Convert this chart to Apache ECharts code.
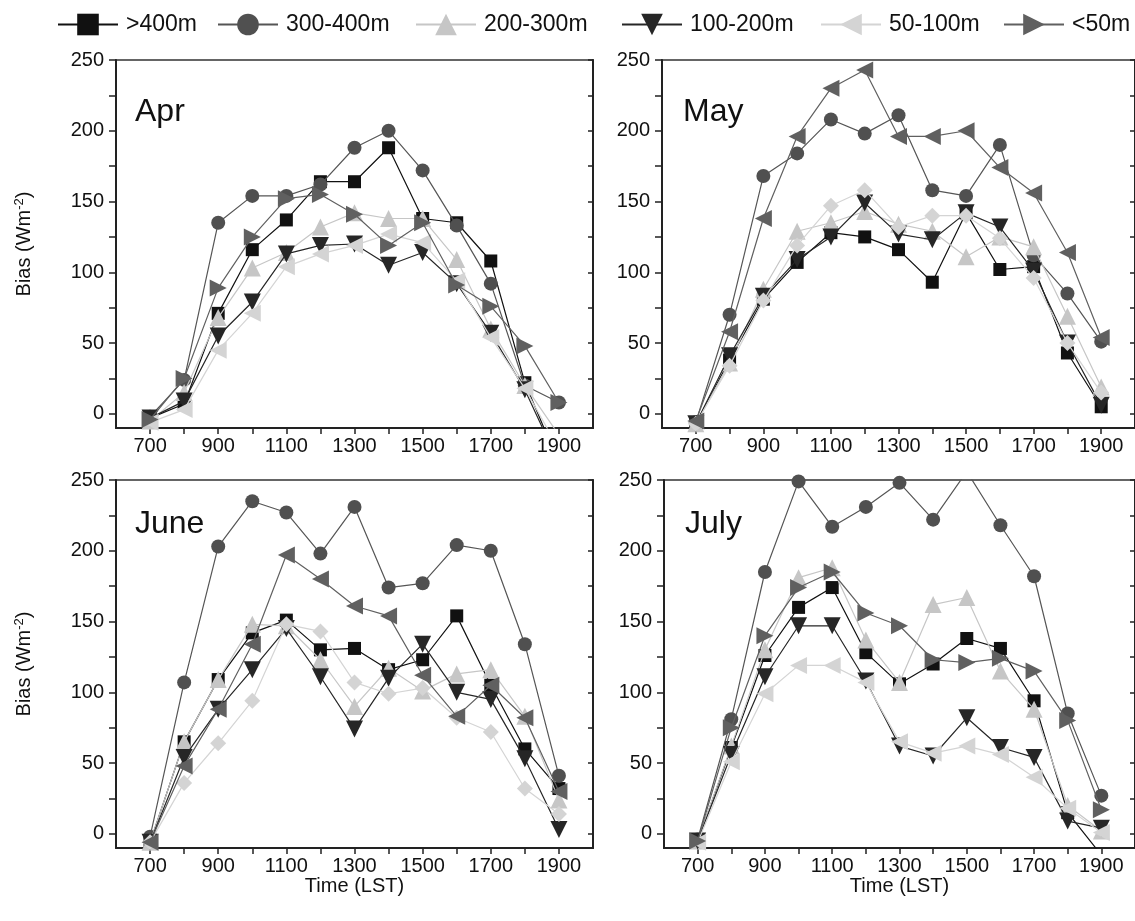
<!DOCTYPE html>
<html>
<head>
<meta charset="utf-8">
<script src="https://cdn.jsdelivr.net/npm/echarts@6/dist/echarts.min.js"></script>
<style>
html,body{margin:0;padding:0;background:#fff;}
#chart{width:1135px;height:921px;}
</style>
</head>
<body>
<div id="chart"></div>
<script>
// ---- data ----
const hours = [700, 800, 900, 1000, 1100, 1200, 1300, 1400, 1500, 1600, 1700, 1800, 1900];
const seriesNames = ['>400m', '300-400m', '200-300m', '100-200m', '50-100m', '<50m'];
const panelTitles = ['Apr', 'May', 'June', 'July'];
const xTickValues = [700, 800, 900, 1000, 1100, 1200, 1300, 1400, 1500, 1600, 1700, 1800, 1900];
const xLabelValues = [700, 900, 1100, 1300, 1500, 1700, 1900];
const yTickValues = [0, 25, 50, 75, 100, 125, 150, 175, 200, 225, 250];
const yLabelValues = [0, 50, 100, 150, 200, 250];

const apr_gt400 = [-3, 7, 71, 116, 137, 164, 164, 188, 138, 135, 108, 22, -35];
const apr_300 = [-2, 24, 135, 154, 154, 162, 188, 200, 172, 133, 92, 20, 8];
const apr_200 = [-5, 15, 68, 103, 114, 132, 142, 138, 138, 109, 60, 20, -15];
const apr_100 = [-3, 9, 55, 79, 113, 119, 120, 105, 114, 92, 57, 17, -35];
const apr_50 = [-6, 3, 45, 71, 104, 113, 119, 127, 121, 94, 54, 18, -25];
const apr_lt50 = [-4, 25, 89, 125, 152, 155, 141, 119, 135, 91, 76, 48, 8];

const may_gt400 = [-7, 38, 81, 107, 128, 125, 116, 93, 142, 102, 104, 43, 5];
const may_300 = [-6, 70, 168, 184, 208, 198, 211, 158, 154, 190, 112, 85, 51];
const may_200 = [-7, 36, 88, 129, 135, 143, 134, 129, 111, 125, 118, 69, 19];
const may_100 = [-7, 41, 83, 109, 125, 149, 127, 123, 142, 132, 101, 50, 6];
const may_50 = [-7, 34, 80, 119, 147, 158, 132, 140, 140, 124, 96, 50, 15];
const may_lt50 = [-5, 58, 138, 196, 230, 243, 196, 196, 200, 174, 156, 114, 54];

const jun_gt400 = [-6, 65, 109, 142, 151, 130, 131, 116, 123, 154, 105, 60, 32];
const jun_300 = [-2, 107, 203, 235, 227, 198, 231, 174, 177, 204, 200, 134, 41];
const jun_200 = [-6, 65, 109, 148, 147, 123, 90, 117, 101, 113, 116, 83, 24];
const jun_100 = [-6, 54, 88, 116, 145, 111, 74, 110, 134, 100, 95, 53, 3];
const jun_50 = [-6, 36, 64, 94, 148, 143, 107, 99, 103, 82, 72, 32, 14];
const jun_lt50 = [-6, 48, 88, 134, 197, 180, 161, 154, 112, 83, 105, 82, 30];

const jul_gt400 = [-5, 61, 126, 160, 174, 128, 106, 120, 138, 131, 94, 15, -15];
const jul_300 = [-4, 81, 185, 249, 217, 231, 248, 222, 256, 218, 182, 85, 27];
const jul_200 = [-5, 62, 130, 181, 188, 137, 107, 162, 167, 115, 88, 20, 2];
const jul_100 = [-5, 56, 111, 147, 147, 108, 62, 55, 82, 61, 54, 9, 4];
const jul_50 = [-6, 51, 99, 119, 119, 107, 65, 57, 62, 56, 40, 18, 1];
const jul_lt50 = [-5, 75, 140, 174, 185, 156, 147, 123, 121, 124, 115, 80, 17];

// ---- layout / style ----
const FONT = '"Liberation Sans", Arial, Helvetica, sans-serif';
const grids = [
  {left: 116, top: 60, width: 477, height: 368},
  {left: 662, top: 60, width: 477, height: 368},
  {left: 116, top: 480, width: 477, height: 368},
  {left: 664, top: 480, width: 477, height: 368}
];
const panelData = [
  [apr_gt400, apr_300, apr_200, apr_100, apr_50, apr_lt50],
  [may_gt400, may_300, may_200, may_100, may_50, may_lt50],
  [jun_gt400, jun_300, jun_200, jun_100, jun_50, jun_lt50],
  [jul_gt400, jul_300, jul_200, jul_100, jul_50, jul_lt50]
];
const styles = [
  {c: '#111111', lc: '#111111', sym: 'rect', rot: 0, size: 13},
  {c: '#505050', lc: '#555555', sym: 'circle', rot: 0, size: 14},
  {c: '#c6c6c6', lc: '#c6c6c6', sym: 'triangle', rot: 0, size: 17},
  {c: '#262626', lc: '#262626', sym: 'triangle', rot: 180, size: 17},
  {c: '#d4d4d4', lc: '#d4d4d4', sym: 'triangle', rot: 90, size: 17},
  {c: '#606060', lc: '#606060', sym: 'triangle', rot: -90, size: 17}
];
function styleFor(panel, k) {
  const s = Object.assign({}, styles[k]);
  if (panel === 1 || panel === 2) {
    if (k === 4) { s.sym = 'diamond'; s.rot = 0; s.size = 16; }
    if (k === 5) { s.rot = 90; }
  }
  return s;
}

const option = {
  backgroundColor: '#ffffff',
  animation: false,
  textStyle: {fontFamily: FONT},
  title: panelTitles.map((t, i) => ({
    text: t,
    left: grids[i].left + (i % 2 === 0 ? 14 : 16),
    top: grids[i].top + (i < 2 ? 31 : 23),
    textStyle: {fontSize: 32, fontWeight: 'normal', color: '#111', fontFamily: FONT}
  })),
  legend: seriesNames.map((n, i) => ({
    data: [n],
    left: [57, 217, 415, 621, 820, 1003][i],
    top: 13,
    itemWidth: 60,
    itemHeight: 27,
    itemGap: 0,
    padding: 0,
    textStyle: {fontSize: 23, color: '#111', fontFamily: FONT, padding: [0, 0, 0, 3]}
  })),
  grid: grids.map(g => Object.assign({show: true, borderColor: '#333', borderWidth: 1.5, backgroundColor: 'transparent'}, g)),
  xAxis: [],
  yAxis: [],
  series: []
};

for (let i = 0; i < 4; i++) {
  option.xAxis.push({
    type: 'value', gridIndex: i, min: 600, max: 2000,
    name: i >= 2 ? 'Time (LST)' : '',
    nameLocation: 'middle', nameGap: 27,
    nameTextStyle: {fontSize: 20, color: '#111', fontFamily: FONT},
    axisLine: {show: true, onZero: false, lineStyle: {color: '#222', width: 2}},
    axisTick: {show: true, inside: false, length: 6, customValues: xTickValues, lineStyle: {color: '#222', width: 1.5}},
    axisLabel: {show: true, customValues: xLabelValues, formatter: v => String(v), fontSize: 20, color: '#111', margin: 8, fontFamily: FONT},
    splitLine: {show: false}
  });
  option.yAxis.push({
    type: 'value', gridIndex: i, min: -10, max: 250, position: 'left',
    name: i % 2 === 0 ? '{a|Bias (Wm}{s|-2}{a|)}' : '',
    nameLocation: 'middle', nameGap: 80, nameRotate: 90,
    nameTextStyle: {
      color: '#111', fontFamily: FONT,
      rich: {
        a: {fontSize: 20, color: '#111', fontFamily: FONT},
        s: {fontSize: 13, color: '#111', fontFamily: FONT, verticalAlign: 'top', padding: [0, 0, 10, 0]}
      }
    },
    axisLine: {show: true, onZero: false, lineStyle: {color: '#222', width: 2}},
    axisTick: {show: true, inside: false, length: 7, customValues: yTickValues, lineStyle: {color: '#222', width: 1.5}},
    axisLabel: {show: true, customValues: yLabelValues, formatter: v => String(v), fontSize: 20, color: '#111', margin: 12, fontFamily: FONT},
    splitLine: {show: false}
  });
  option.yAxis.push({
    type: 'value', gridIndex: i, min: -10, max: 250, position: 'right',
    axisLine: {show: true, onZero: false, lineStyle: {color: '#222', width: 2}},
    axisTick: {show: true, inside: true, length: 5, customValues: yTickValues, lineStyle: {color: '#222', width: 1.5}},
    axisLabel: {show: false},
    splitLine: {show: false}
  });
}

for (let p = 0; p < 4; p++) {
  for (let k = 0; k < 6; k++) {
    const s = styleFor(p, k);
    const vals = panelData[p][k];
    option.series.push({
      type: 'line',
      name: seriesNames[k],
      xAxisIndex: p,
      yAxisIndex: p * 2,
      data: hours.map((h, j) => [h, vals[j]]),
      symbol: s.sym,
      symbolRotate: s.rot,
      symbolSize: s.size,
      showAllSymbol: true,
      clip: true,
      lineStyle: {color: s.lc, width: 1.2},
      itemStyle: {color: s.c, opacity: 1},
      emphasis: {disabled: true},
      z: 2 + k
    });
  }
}

const chart = echarts.init(document.getElementById('chart'), null, {renderer: 'canvas'});
chart.setOption(option);
</script>
</body>
</html>
